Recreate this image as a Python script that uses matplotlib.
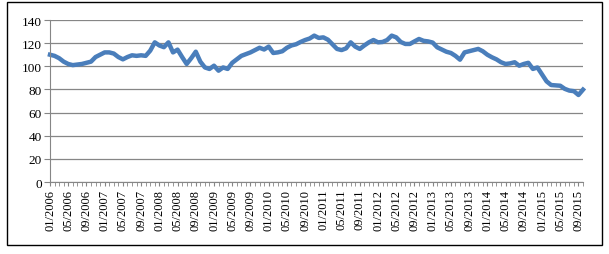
import matplotlib.pyplot as plt
from matplotlib.patches import Rectangle
import numpy as np

plt.rcParams['font.family'] = ['Liberation Serif', 'DejaVu Serif']

# monthly index values, 01/2006 .. 10/2015
values = [110, 109, 107, 104, 102, 101, 101.5, 102, 103, 104,
          108, 110, 112, 112, 111, 108, 106, 108, 109.5, 109,
          109.5, 109, 113.5, 120.7, 118, 116.5, 120.7, 112, 114.4, 108,
          102, 107, 112.6, 104, 99, 97.7, 100.5, 96.2, 99, 97.7,
          103, 106, 109, 110.5, 112, 114, 116, 114.5, 117, 111.5,
          112, 113, 116, 118, 119, 121, 122.7, 124, 126.5, 124.5,
          125, 123, 119, 115, 114, 115.5, 120.7, 117, 115, 118,
          120.7, 122.7, 120.7, 121, 122.7, 126.5, 125, 121, 119.3, 119.3,
          121.5, 123.6, 122, 121.5, 120.5, 116.4, 114.5, 112.6, 111.5, 109,
          105.7, 112, 113, 114, 115, 113, 110, 107.8, 106, 103.5,
          102, 102.5, 103.5, 100.5, 102, 103, 97.7, 99, 93, 87,
          83.8, 83.5, 83.2, 80.5, 79, 78.5, 75.2, 79.8]

months = [f'{m:02d}/{y}' for y in range(2006, 2016) for m in range(1, 13)][:len(values)]
x = np.arange(len(values))

fig = plt.figure(figsize=(6.09, 2.55), dpi=100)
fig.patches.append(Rectangle((7 / 609, 1 - 246 / 255), 595 / 609, 243 / 255,
                             transform=fig.transFigure, fill=False,
                             edgecolor='black', linewidth=1.0))

ax = fig.add_axes([50 / 609, 72 / 255, 533 / 609, 162 / 255])
ax.plot(x, values, color='#4A7EBB', linewidth=3.2, solid_joinstyle='round',
        clip_on=False)

ax.set_xlim(0, len(values) - 1)
ax.set_ylim(0, 140)
ax.set_yticks(range(0, 141, 20))
ax.yaxis.grid(True, color='#868686', linewidth=0.9)
ax.set_axisbelow(True)

ax.set_xticks(x[::4])
ax.set_xticklabels(months[::4], rotation=90, fontsize=9)
ax.set_xticks(x, minor=True)
ax.tick_params(axis='x', which='both', length=3, color='#868686', pad=2)
ax.tick_params(axis='y', length=4, color='#868686', labelsize=9.5, pad=2)

for s in ['top', 'right']:
    ax.spines[s].set_visible(False)
for s in ['left', 'bottom']:
    ax.spines[s].set_color('#868686')

fig.savefig('out.png', dpi=100)
